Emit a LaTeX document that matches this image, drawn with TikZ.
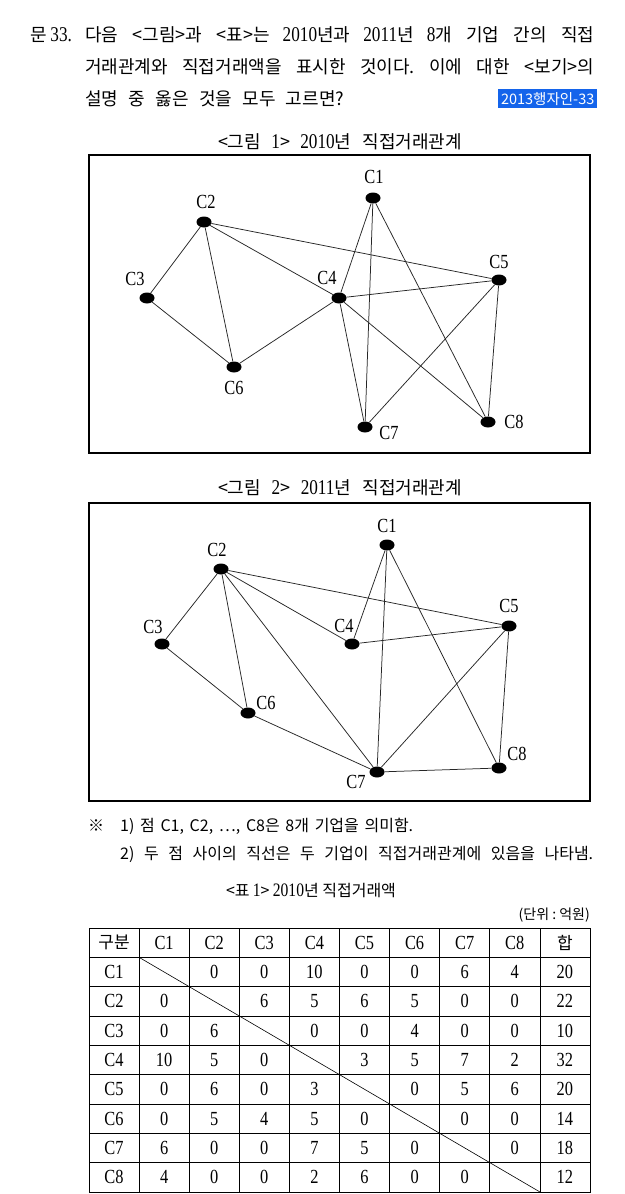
\documentclass[tikz,border=0pt]{standalone}
\usepackage{fontspec}
\setmainfont[FakeStretch=0.82]{Liberation Serif}
\newfontfamily\kr{Noto Sans CJK KR}
\newcommand\KR[1]{{\kr #1}}
\newcommand\DG[1]{{\fontsize{21}{21}\selectfont #1}}
\newcommand\DGs[1]{{\fontsize{19}{19}\selectfont #1}}
\usetikzlibrary{shapes.geometric}
\definecolor{hlblue}{RGB}{20,100,235}
\frenchspacing
\begin{document}
\begin{tikzpicture}[x=1pt,y=-1pt,
  vtx/.style={ellipse,fill=black,inner sep=0pt,minimum width=15pt,minimum height=11pt},
  lbl/.style={inner sep=0pt,font=\fontsize{20}{20}\selectfont},
  edge/.style={line width=0.75pt,black!85},
  frame/.style={line width=1.1pt},
  cell/.style={inner sep=0pt,font=\fontsize{20}{20}\selectfont},
  kcell/.style={inner sep=0pt,font=\fontsize{17}{17}\kr},
  head/.style={inner sep=0pt,anchor=base west,font=\fontsize{18}{18}\selectfont},
  note/.style={inner sep=0pt,anchor=base west,font=\fontsize{16}{16}\kr}]
\useasboundingbox (0,0) rectangle (624,1194);
\fill[white] (0,0) rectangle (624,1194);

% ---------- question header ----------
\node[head] (qn) at (30,41) {\KR{문} \DG{33.}};
\node[head] (l1) at (85,41) {\makebox[509pt][s]{\KR{다음 <그림>과 <표>는} \DG{2010}\KR{년과} \DG{2011}\KR{년} \DG{8}\KR{개 기업 간의 직접}}};
\node[head] (l2) at (85,73) {\makebox[509pt][s]{\KR{거래관계와 직접거래액을 표시한 것이다. 이에 대한 <보기>의}}};
\node[head] (l3) at (85,105) {\makebox[259pt][s]{\KR{설명 중 옳은 것을 모두 고르면?}}};
\node[fill=hlblue,text=white,inner sep=0pt,minimum width=99pt,minimum height=19pt,anchor=north west,font=\fontsize{14.5}{14.5}\kr] (tag) at (498,89) {2013행자인-33};

% ---------- figure 1 ----------
\node[inner sep=0pt,font=\fontsize{18}{18}\selectfont] (t1) at (340,142) {\makebox[244pt][s]{\KR{<그림} \DG{1}\KR{>} \DG{2010}\KR{년 직접거래관계}}};
\draw[frame] (89,155) rectangle (590,453);
\node[vtx] (a1) at (373,198) {};
\node[vtx] (a2) at (204,222) {};
\node[vtx] (a3) at (147,298) {};
\node[vtx] (a4) at (339,298) {};
\node[vtx] (a5) at (499,280) {};
\node[vtx] (a6) at (234,367) {};
\node[vtx] (a7) at (365,427) {};
\node[vtx] (a8) at (488,422) {};
\node[lbl] (la1) at (374,177) {C1};
\node[lbl] (la2) at (206,202) {C2};
\node[lbl] (la3) at (135,279) {C3};
\node[lbl] (la4) at (327,278) {C4};
\node[lbl] (la5) at (499,262) {C5};
\node[lbl] (la6) at (234,388) {C6};
\node[lbl] (la7) at (389,433) {C7};
\node[lbl] (la8) at (514,422) {C8};
\foreach \u/\v in {a2/a3,a2/a6,a2/a4,a2/a5,a3/a6,a6/a4,a4/a1,a4/a5,a4/a7,a4/a8,a1/a7,a1/a8,a5/a7,a5/a8}
  \draw[edge] (\u) -- (\v);

% ---------- figure 2 ----------
\node[inner sep=0pt,font=\fontsize{18}{18}\selectfont] (t2) at (340,488) {\makebox[244pt][s]{\KR{<그림} \DG{2}\KR{>} \DG{2011}\KR{년 직접거래관계}}};
\draw[frame] (89,503) rectangle (590,801);
\node[vtx] (b1) at (387,545) {};
\node[vtx] (b2) at (221,569) {};
\node[vtx] (b3) at (162,644) {};
\node[vtx] (b4) at (352,644) {};
\node[vtx] (b5) at (509,626) {};
\node[vtx] (b6) at (248,713) {};
\node[vtx] (b7) at (377,772) {};
\node[vtx] (b8) at (499,768) {};
\node[lbl] (lb1) at (387,526) {C1};
\node[lbl] (lb2) at (217,550) {C2};
\node[lbl] (lb3) at (153,627) {C3};
\node[lbl] (lb4) at (344,626) {C4};
\node[lbl] (lb5) at (509,606) {C5};
\node[lbl] (lb6) at (266,703) {C6};
\node[lbl] (lb7) at (356,782) {C7};
\node[lbl] (lb8) at (517,754) {C8};
\foreach \u/\v in {b2/b3,b3/b6,b2/b6,b2/b7,b2/b4,b2/b5,b1/b4,b1/b7,b1/b8,b4/b5,b5/b7,b5/b8,b6/b7,b7/b8}
  \draw[edge] (\u) -- (\v);

% ---------- notes ----------
\node[note] (n0) at (88,831) {※};
\node[note] (n1) at (120,831) {\makebox[293pt][s]{1) 점 C1, C2, ⋯, C8은 8개 기업을 의미함.}};
\node[note] (n2) at (120,859) {\makebox[473pt][s]{2) 두 점 사이의 직선은 두 기업이 직접거래관계에 있음을 나타냄.}};

% ---------- table ----------
\node[inner sep=0pt,font=\fontsize{16}{16}\selectfont] (t3) at (311,890) {\KR{<표} \DGs{1}\KR{>} \DGs{2010}\KR{년 직접거래액}};
\node[inner sep=0pt,anchor=east,font=\fontsize{14}{14}\kr] (unit) at (590,915) {(단위 : 억원)};
\draw[line width=1pt] (89,928) rectangle (590,1192);
\foreach \i in {1,...,9}
  \draw[line width=0.8pt] ({89+50.1*\i},928) -- ({89+50.1*\i},1192);
\foreach \j in {1,...,8}
  \draw[line width=0.8pt] (89,{928+29.33*\j}) -- (590,{928+29.33*\j});
\draw[line width=0.6pt] (139.1,957.33) -- (540,1192);
\node[kcell] (hd0) at (114,942.7) {구분};
\foreach \c in {1,...,8}
  \node[cell] (hd\c) at ({139.1+50.1*(\c-1)+25},942.7) {C\c};
\node[kcell] (hd9) at (565,942.7) {합};
\foreach \r/\vals in {1/{\null,0,0,10,0,0,6,4,20},
                      2/{0,\null,6,5,6,5,0,0,22},
                      3/{0,6,\null,0,0,4,0,0,10},
                      4/{10,5,0,\null,3,5,7,2,32},
                      5/{0,6,0,3,\null,0,5,6,20},
                      6/{0,5,4,5,0,\null,0,0,14},
                      7/{6,0,0,7,5,0,\null,0,18},
                      8/{4,0,0,2,6,0,0,\null,12}}{
  \node[cell] (rh\r) at (114,{928+29.33*(\r+0.5)}) {C\r};
  \foreach \v [count=\c] in \vals
    \node[cell] (c\r-\c) at ({139.1+50.1*(\c-1)+25},{928+29.33*(\r+0.5)}) {\v};
}
\end{tikzpicture}
\end{document}
